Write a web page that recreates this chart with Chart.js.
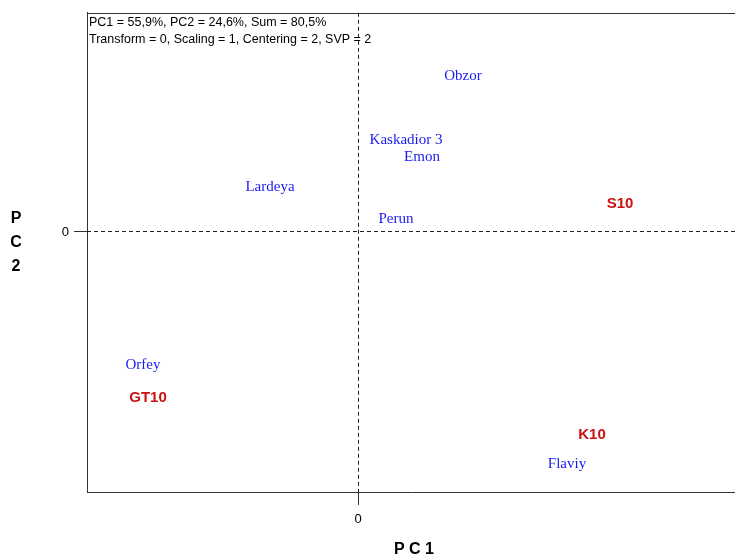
<!DOCTYPE html>
<html>
<head>
<meta charset="utf-8">
<script src="https://cdn.jsdelivr.net/npm/chart.js@4/dist/chart.umd.min.js"></script>
<style>
  html, body { margin: 0; padding: 0; background: #fff; overflow: hidden; }
  #wrap { width: 735px; height: 560px; }
</style>
</head>
<body>
<div id="wrap"><canvas id="biplot" width="735" height="560"></canvas></div>
<script>
// Genotype scores (blue labels)
const genotypes = ['Obzor', 'Kaskadior 3', 'Emon', 'Lardeya', 'Perun', 'Orfey', 'Flaviy'];
const genoPC1 = [1.05, 0.48, 0.64, -0.88, 0.38, -2.15, 2.09];
const genoPC2 = [1.56, 0.92, 0.75, 0.45, 0.13, -1.34, -2.33];

// Environment scores (red labels)
const environments = ['S10', 'GT10', 'K10'];
const envPC1 = [2.62, -2.10, 2.34];
const envPC2 = [0.28, -1.67, -2.04];

// Axis ranges and tick labels
const pc1Range = [-2.71, 3.77];
const pc2Range = [-2.61, 2.20];
const tickValues = [0];

const headerLines = [
  'PC1 = 55,9%, PC2 = 24,6%, Sum = 80,5%',
  'Transform = 0, Scaling = 1, Centering = 2, SVP = 2'
];
const xTitle = 'P C 1';
const yTitle = ['P', 'C', '2'];

const toPoints = (xs, ys) => xs.map((x, i) => ({ x, y: ys[i] }));

const labelPlugin = {
  id: 'biplotDecor',
  beforeDatasetsDraw(chart) {
    const { ctx, chartArea: a, scales } = chart;
    const x0 = Math.round(scales.x.getPixelForValue(0)) + 0.5;
    const y0 = Math.round(scales.y.getPixelForValue(0)) - 0.5;
    ctx.save();
    // top frame line
    ctx.strokeStyle = '#333';
    ctx.lineWidth = 1;
    ctx.beginPath();
    ctx.moveTo(a.left, Math.round(a.top) + 0.5);
    ctx.lineTo(a.right, Math.round(a.top) + 0.5);
    ctx.stroke();
    // dashed origin lines
    ctx.strokeStyle = '#222';
    ctx.setLineDash([4, 3]);
    ctx.beginPath();
    ctx.moveTo(x0, a.top);
    ctx.lineTo(x0, a.bottom);
    ctx.moveTo(a.left, y0);
    ctx.lineTo(a.right, y0);
    ctx.stroke();
    ctx.setLineDash([]);
    // header text
    ctx.fillStyle = '#000';
    ctx.font = '12.5px "Liberation Sans", Arial, sans-serif';
    ctx.textAlign = 'left';
    ctx.textBaseline = 'alphabetic';
    headerLines.forEach((t, i) => ctx.fillText(t, a.left + 2, a.top + 13 + i * 17));
    // axis titles
    ctx.font = 'bold 16px "Liberation Sans", Arial, sans-serif';
    ctx.textAlign = 'center';
    ctx.textBaseline = 'middle';
    ctx.fillText(xTitle, 414, 550);
    yTitle.forEach((t, i) => ctx.fillText(t, 16, 219 + i * 24));
    ctx.restore();
  },
  afterDatasetsDraw(chart) {
    const { ctx } = chart;
    ctx.save();
    ctx.textAlign = 'center';
    ctx.textBaseline = 'middle';
    chart.data.datasets.forEach((ds, di) => {
      const meta = chart.getDatasetMeta(di);
      ctx.font = ds.labelFont;
      ctx.fillStyle = ds.labelColor;
      meta.data.forEach((el, i) => ctx.fillText(ds.labels[i], el.x, el.y));
    });
    ctx.restore();
  }
};

const axisCommon = {
  type: 'linear',
  afterBuildTicks: (s) => { s.ticks = tickValues.map(v => ({ value: v })); },
  grid: { drawOnChartArea: false, drawTicks: true, tickLength: 13, color: '#333', lineWidth: 1 },
  border: { display: true, color: '#333', width: 1 },
  ticks: { color: '#000', font: { family: '"Liberation Sans", Arial, sans-serif', size: 13 }, padding: 7 }
};

new Chart(document.getElementById('biplot'), {
  type: 'scatter',
  data: {
    datasets: [
      {
        label: 'Genotypes',
        data: toPoints(genoPC1, genoPC2),
        labels: genotypes,
        labelFont: '15px "Liberation Serif", "Times New Roman", serif',
        labelColor: '#1a1af0',
        pointRadius: 0,
        pointHoverRadius: 0
      },
      {
        label: 'Environments',
        data: toPoints(envPC1, envPC2),
        labels: environments,
        labelFont: 'bold 15px "Liberation Sans", Arial, sans-serif',
        labelColor: '#cc1111',
        pointRadius: 0,
        pointHoverRadius: 0
      }
    ]
  },
  options: {
    responsive: false,
    animation: false,
    devicePixelRatio: 1,
    layout: { padding: { top: 8, right: 0, left: 0, bottom: 0 } },
    plugins: { legend: { display: false }, tooltip: { enabled: false } },
    events: [],
    scales: {
      x: Object.assign({}, axisCommon, {
        min: pc1Range[0], max: pc1Range[1],
        afterFit: (s) => { s.height = 68; }
      }),
      y: Object.assign({}, axisCommon, {
        min: pc2Range[0], max: pc2Range[1],
        ticks: Object.assign({}, axisCommon.ticks, { padding: 5 }),
        afterFit: (s) => { s.width = 87; }
      })
    }
  },
  plugins: [labelPlugin]
});
</script>
</body>
</html>
